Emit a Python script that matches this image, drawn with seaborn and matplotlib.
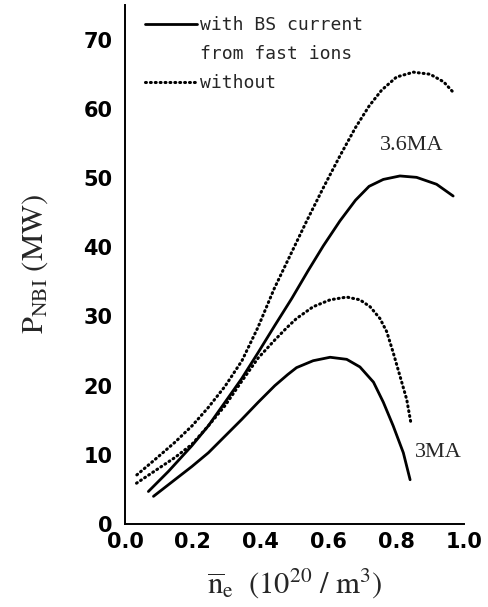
import matplotlib
matplotlib.use("Agg")
import matplotlib.pyplot as plt
import seaborn as sns
import pandas as pd
from matplotlib.lines import Line2D

# ---- data ----
x_36_without = [0.035, 0.088, 0.147, 0.198, 0.245, 0.295, 0.345, 0.392, 0.44, 0.487,
                0.536, 0.585, 0.634, 0.68, 0.72, 0.757, 0.801, 0.851, 0.90, 0.94, 0.968]
y_36_without = [7.1, 9.3, 11.8, 14.2, 16.8, 19.9, 23.6, 28.4, 34.0, 38.8,
                43.8, 48.6, 53.2, 57.3, 60.4, 62.7, 64.6, 65.3, 65.0, 63.9, 62.4]

x_36_with = [0.069, 0.128, 0.197, 0.246, 0.295, 0.344, 0.393, 0.442, 0.492, 0.54,
             0.585, 0.634, 0.68, 0.72, 0.762, 0.811, 0.860, 0.919, 0.968]
y_36_with = [4.7, 7.6, 11.3, 14.2, 17.6, 21.0, 24.8, 28.7, 32.6, 36.6,
             40.2, 43.8, 46.8, 48.8, 49.8, 50.3, 50.1, 49.1, 47.4]

x_3_without = [0.034, 0.098, 0.147, 0.197, 0.246, 0.295, 0.344, 0.393, 0.442, 0.48,
               0.506, 0.555, 0.605, 0.654, 0.693, 0.723, 0.752, 0.772, 0.791, 0.811,
               0.831, 0.843]
y_3_without = [5.9, 8.0, 9.6, 11.5, 14.2, 17.1, 20.6, 24.0, 26.6, 28.5,
               29.7, 31.4, 32.4, 32.8, 32.4, 31.4, 29.7, 27.8, 24.8, 21.4,
               18.0, 14.7]

x_3_with = [0.084, 0.147, 0.197, 0.246, 0.295, 0.344, 0.393, 0.442, 0.48, 0.506,
            0.555, 0.605, 0.654, 0.693, 0.733, 0.762, 0.791, 0.821, 0.841]
y_3_with = [4.0, 6.4, 8.3, 10.3, 12.7, 15.1, 17.6, 20.0, 21.6, 22.6,
            23.6, 24.1, 23.8, 22.7, 20.5, 17.6, 14.2, 10.3, 6.4]

x_ticks = [0.0, 0.2, 0.4, 0.6, 0.8, 1.0]
x_tick_labels = ["0.0", "0.2", "0.4", "0.6", "0.8", "1.0"]
y_ticks = [0, 10, 20, 30, 40, 50, 60, 70]
y_tick_labels = ["0", "10", "20", "30", "40", "50", "60", "70"]

sns.set_theme(style="white")
plt.rcParams["font.family"] = ["DejaVu Sans"]
plt.rcParams["mathtext.fontset"] = "stix"

fig = plt.figure(figsize=(4.89, 6.07), dpi=100)
ax = fig.add_axes([0.2556, 0.1367, 0.6933, 0.855])

solid_kw = dict(color="black", linewidth=2.0, linestyle="-", solid_capstyle="round",
                solid_joinstyle="round")
dot_kw = dict(color="black", linewidth=2.2, linestyle=(0, (0.3, 1.3)), dash_capstyle="round")

def draw(xs, ys, kw):
    df = pd.DataFrame({"x": xs, "y": ys})
    sns.lineplot(data=df, x="x", y="y", ax=ax, sort=False, estimator=None, **kw)

draw(x_36_without, y_36_without, dot_kw)
draw(x_3_without, y_3_without, dot_kw)
draw(x_36_with, y_36_with, solid_kw)
draw(x_3_with, y_3_with, solid_kw)

ax.set_xlim(0, 1.0)
ax.set_ylim(0, 75)
ax.set_xticks(x_ticks)
ax.set_xticklabels(x_tick_labels)
ax.set_yticks(y_ticks)
ax.set_yticklabels(y_tick_labels)
for s in ["top", "right"]:
    ax.spines[s].set_visible(False)
for s in ["left", "bottom"]:
    ax.spines[s].set_linewidth(1.4)
    ax.spines[s].set_color("black")
ax.tick_params(axis="both", direction="in", length=6, width=1.4, colors="black",
               labelsize=15)
ax.tick_params(axis="y", pad=9, length=7)
ax.tick_params(axis="x", pad=6)
for lab in ax.get_xticklabels() + ax.get_yticklabels():
    lab.set_fontweight("bold")

ax.set_xlabel(r"$\overline{\mathrm{n}}_{\mathrm{e}}\ \ (10^{20}\ /\ \mathrm{m}^{3})$",
              fontsize=22, labelpad=10)
ax.set_ylabel(r"$\mathrm{P}_{\mathrm{NBI}}\ \mathrm{(MW)}$", fontsize=22, labelpad=24)

ax.text(0.847, 54.7, "3.6MA", fontsize=16, family="Liberation Serif",
        ha="center", va="center")
ax.text(0.923, 10.3, "3MA", fontsize=16, family="Liberation Serif",
        ha="center", va="center")

handles = [Line2D([], [], **solid_kw),
           Line2D([], [], color="none"),
           Line2D([], [], **dot_kw)]
labels = ["with BS current", "from fast ions", "without"]
leg = ax.legend(handles, labels, loc="upper left", bbox_to_anchor=(0.059, 0.979),
                frameon=False, handlelength=2.9, handletextpad=0.15,
                borderpad=0, borderaxespad=0,
                labelspacing=0.61, prop={"family": "DejaVu Sans Mono", "size": 13})

fig.savefig("out.png", dpi=100)
